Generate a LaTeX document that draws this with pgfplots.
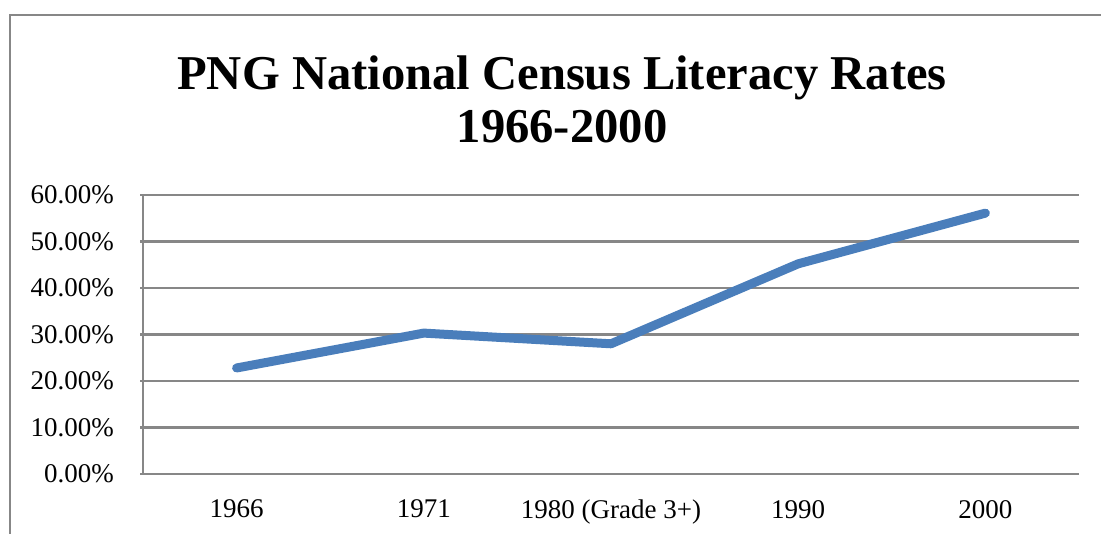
\documentclass[border=0pt]{standalone}
\usepackage{pgfplots}
\pgfplotsset{compat=1.18}
\usepackage{fontspec}
\setmainfont{Liberation Serif}
\definecolor{linblue}{HTML}{4A7EBB}
\definecolor{gridgray}{HTML}{878787}
\begin{document}
\begin{tikzpicture}[x=1pt,y=1pt]
\useasboundingbox (0,0) rectangle (550.5,267);
\draw[gridgray, line width=1.2pt] (5,-10) -- (5,259.5) -- (560,259.5);
\node[font=\bfseries\fontsize{24.3}{26.5}\selectfont, anchor=base] at (281,222) {PNG National Census Literacy Rates};
\node[font=\bfseries\fontsize{24.3}{26.5}\selectfont, anchor=base] at (281,195.5) {1966-2000};
\begin{axis}[
  at={(71.5pt,30pt)}, anchor=south west, scale only axis,
  width=468pt, height=139.5pt,
  xmin=-0.5, xmax=4.5, ymin=0, ymax=60,
  axis x line=bottom, axis y line=left,
  axis line style={-, gridgray, line width=1.2pt},
  xtick={0,1,2,3,4},
  xticklabels={1966,1971,1980 (Grade 3+),1990,2000},
  ytick={0,10,20,30,40,50,60},
  yticklabels={0.00\%,10.00\%,20.00\%,30.00\%,40.00\%,50.00\%,60.00\%},
  ymajorgrids,
  grid style={gridgray, line width=1.1pt},
  major x tick style={draw=none},
  major y tick style={gridgray, line width=1.1pt},
  tick align=outside, major tick length=1.5pt,
  tick label style={font=\fontsize{13.5}{15}\selectfont, text=black},
  yticklabel style={xshift=-9.5pt},
  xticklabel style={yshift=-8pt},
  clip=false,
]
\addplot[linblue, line width=4.5pt, line cap=round, line join=round] coordinates {
  (0,22.8) (1,30.3) (2,28.0) (3,45.2) (4,56.1)
};
\end{axis}
\end{tikzpicture}
\end{document}
